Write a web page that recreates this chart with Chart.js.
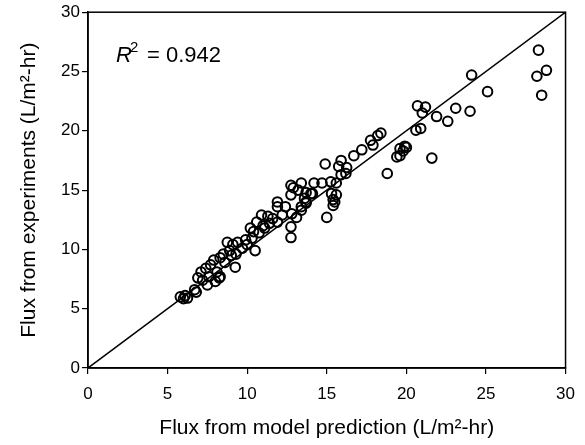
<!DOCTYPE html>
<html>
<head>
<meta charset="utf-8">
<script src="https://cdn.jsdelivr.net/npm/chart.js@4/dist/chart.umd.min.js"></script>
<style>
html,body{margin:0;padding:0;background:#fff;}
#wrap{width:585px;height:445px;}
</style>
</head>
<body>
<div id="wrap"><canvas id="c" width="585" height="445"></canvas></div>
<script>
// Model-predicted flux (x) and experimental flux (y), L/m2-hr
const predicted = [
  5.8,6.1,6.25,6.0,6.7,6.8,6.9,7.1,7.5,7.6,7.4,7.7,7.2,8.1,8.3,7.9,8.3,8.6,8.25,8.0,
  9.25,8.9,9.1,8.75,9.4,9.7,9.9,10.3,10.2,10.75,10.5,9.3,10.0,
  10.6,10.9,11.4,11.9,11.1,11.6,12.75,12.75,13.1,13.4,13.7,11.9,12.4,11.9,12.75,12.9,12.75,
  13.2,14.0,13.4,14.2,14.7,15.25,15.6,13.7,14.1,15.3,15.6,15.4,15.4,15.5,13.7,13.4,15.0,12.8,
  14.9,15.9,15.75,16.7,17.2,17.75,17.9,18.2,18.4,16.25,16.2,15.9,18.8,19.4,19.6,19.6,20.0,
  19.8,19.9,20.6,20.9,20.7,21.2,21.0,21.9,23.1,22.6,21.6,24.1,24.0,25.1,28.3,28.8,28.2,28.5,
  11.3,10.4,9.0,12.2,13.6,8.5,11.0
];
const measured = [
  6.0,6.1,5.9,5.85,6.6,6.4,7.6,8.1,7.0,7.7,8.4,8.7,7.4,8.1,7.7,9.1,9.3,8.9,7.6,7.3,
  8.5,9.9,10.4,10.6,10.6,10.1,10.8,10.95,11.8,11.4,9.9,9.6,10.4,
  12.3,12.9,12.2,12.3,11.8,12.6,11.9,11.0,12.7,13.3,13.9,14.0,13.6,13.6,14.6,15.2,15.4,
  15.0,14.7,15.6,15.6,15.6,15.7,15.6,14.8,14.7,14.7,14.6,14.2,13.7,14.0,14.0,13.6,12.7,13.0,
  17.2,17.5,17.0,17.9,18.4,19.2,18.8,19.6,19.8,16.9,16.4,16.3,16.4,17.8,17.9,18.5,18.6,
  18.3,18.7,20.05,20.2,22.1,22.0,21.5,21.2,21.9,20.8,17.7,24.7,21.65,23.3,26.8,25.1,24.6,23.0,
  12.8,11.5,9.5,12.9,14.3,9.6,12.0
];
const lineX = [0, 30];
const lineY = [0, 30];
const axisMin = 0, axisMax = 30, axisStep = 5;
const xTitle = 'Flux from model prediction (L/m\u00B2-hr)';
const yTitle = 'Flux from experiments (L/m\u00B2-hr)';
const r2Value = '0.942';

const FONT = "'Liberation Sans', Arial, sans-serif";
const pts = predicted.map((x, i) => ({x: x, y: measured[i]}));
const linePts = lineX.map((x, i) => ({x: x, y: lineY[i]}));

const framePlugin = {
  id: 'frame',
  afterDraw(chart) {
    const {ctx, chartArea: a} = chart;
    ctx.save();
    ctx.strokeStyle = '#000';
    ctx.lineWidth = 1.5;
    ctx.strokeRect(a.left, a.top, a.right - a.left, a.bottom - a.top);
    // R^2 annotation
    ctx.fillStyle = '#000';
    ctx.textBaseline = 'alphabetic';
    ctx.font = "italic 22px " + FONT;
    const x0 = 116, base = 62;
    ctx.fillText('R', x0, base);
    const wR = ctx.measureText('R').width;
    ctx.font = "15px " + FONT;
    ctx.fillText('2', x0 + wR - 2, base - 10);
    ctx.font = "22px " + FONT;
    ctx.fillText('= ' + r2Value, 147, base);
    ctx.restore();
  }
};

function axisCfg(title, isX) {
  return {
    type: 'linear',
    min: axisMin, max: axisMax,
    ticks: {
      stepSize: axisStep,
      color: '#000',
      font: {family: FONT, size: 17},
      padding: isX ? 10 : 2
    },
    grid: {
      drawOnChartArea: false,
      drawTicks: true,
      tickLength: 6,
      color: '#000',
      lineWidth: 1.2
    },
    border: {display: true, color: '#000', width: 1.5},
    title: {
      display: true,
      text: title,
      color: '#000',
      font: {family: FONT, size: 21},
      padding: isX ? {top: 0, bottom: 4} : {top: 17, bottom: 0}
    },
    afterFit(scale) {
      if (isX) scale.height = 77; else scale.width = 88;
    }
  };
}

new Chart(document.getElementById('c'), {
  type: 'scatter',
  data: {
    datasets: [
      {
        type: 'scatter',
        data: pts,
        pointStyle: 'circle',
        pointRadius: 4.8,
        pointBorderWidth: 2,
        pointBorderColor: '#000',
        pointBackgroundColor: 'rgba(255,255,255,0)',
        order: 1
      },
      {
        type: 'line',
        data: linePts,
        borderColor: '#000',
        borderWidth: 1.5,
        pointRadius: 0,
        fill: false,
        order: 2
      }
    ]
  },
  options: {
    responsive: false,
    animation: false,
    devicePixelRatio: 1,
    layout: {padding: {top: 12, right: 18, left: 0, bottom: 0}},
    plugins: {legend: {display: false}, tooltip: {enabled: false}},
    scales: {
      x: axisCfg(xTitle, true),
      y: axisCfg(yTitle, false)
    }
  },
  plugins: [framePlugin]
});
</script>
</body>
</html>
